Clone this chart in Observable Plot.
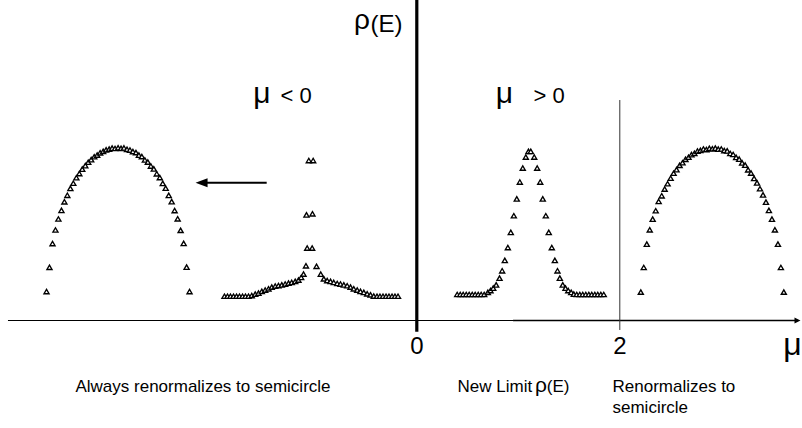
<!DOCTYPE html>
<html>
<head>
<meta charset="utf-8">
<script src="https://cdn.jsdelivr.net/npm/d3@7"></script>
<script src="https://cdn.jsdelivr.net/npm/@observablehq/plot@0.6"></script>
<style>
  html, body { margin: 0; padding: 0; background: #fff; }
  svg { display: block; }
</style>
</head>
<body>
<script>
// ---- Data (x in μ units, y in ρ units) ----
const semiLeftMu = [-3.648,-3.619,-3.589,-3.560,-3.531,-3.501,-3.472,-3.443,-3.413,-3.384,-3.354,-3.325,-3.296,-3.266,-3.237,-3.208,-3.178,-3.149,-3.120,-3.090,-3.061,-3.031,-3.002,-2.973,-2.943,-2.914,-2.885,-2.855,-2.826,-2.797,-2.767,-2.738,-2.709,-2.679,-2.650,-2.620,-2.591,-2.562,-2.532,-2.503,-2.474,-2.444,-2.415,-2.386,-2.356,-2.327,-2.297,-2.268,-2.239];
const semiLeftRho = [0.164,0.305,0.443,0.522,0.586,0.636,0.686,0.724,0.764,0.794,0.826,0.850,0.876,0.896,0.916,0.931,0.948,0.958,0.971,0.979,0.988,0.992,0.998,0.996,1.000,0.997,0.999,0.991,0.987,0.978,0.972,0.957,0.949,0.929,0.917,0.894,0.877,0.849,0.827,0.793,0.765,0.723,0.687,0.635,0.587,0.520,0.444,0.306,0.164];

const cuspMu = [-1.895,-1.865,-1.836,-1.806,-1.776,-1.747,-1.717,-1.688,-1.658,-1.626,-1.592,-1.560,-1.527,-1.494,-1.461,-1.429,-1.395,-1.363,-1.330,-1.297,-1.264,-1.232,-1.198,-1.166,-1.139,-1.116,-1.092,-1.087,-1.080,-1.064,-1.021,-1.028,-1.031,-0.988,-0.946,-0.916,-0.883,-0.850,-0.818,-0.784,-0.752,-0.719,-0.686,-0.653,-0.621,-0.587,-0.555,-0.522,-0.489,-0.456,-0.424,-0.392,-0.363,-0.333,-0.303,-0.274,-0.244,-0.215,-0.185];
const cuspRho = [0.137,0.137,0.137,0.137,0.137,0.137,0.137,0.137,0.137,0.141,0.149,0.155,0.165,0.173,0.180,0.190,0.196,0.199,0.203,0.208,0.213,0.217,0.223,0.231,0.246,0.266,0.314,0.610,0.417,0.926,0.926,0.616,0.417,0.311,0.265,0.238,0.228,0.223,0.217,0.211,0.208,0.203,0.198,0.190,0.180,0.173,0.165,0.159,0.151,0.145,0.138,0.137,0.137,0.137,0.137,0.137,0.137,0.137,0.137];

const gaussMu = [0.398,0.428,0.457,0.487,0.516,0.546,0.575,0.605,0.634,0.664,0.700,0.726,0.753,0.782,0.815,0.841,0.867,0.897,0.926,0.956,0.985,1.015,1.044,1.074,1.100,1.123,1.157,1.186,1.216,1.241,1.271,1.300,1.330,1.360,1.386,1.409,1.438,1.465,1.492,1.521,1.547,1.576,1.606,1.635,1.665,1.695,1.724,1.754,1.783,1.813,1.842];
const gaussRho = [0.147,0.147,0.147,0.147,0.147,0.147,0.147,0.147,0.147,0.147,0.159,0.170,0.184,0.203,0.242,0.285,0.345,0.420,0.508,0.605,0.703,0.801,0.882,0.946,0.979,0.979,0.946,0.882,0.801,0.703,0.605,0.508,0.420,0.345,0.285,0.242,0.203,0.184,0.170,0.159,0.149,0.147,0.147,0.147,0.147,0.147,0.147,0.147,0.147,0.147,0.147];

const semiRightMu = [2.207,2.236,2.266,2.295,2.324,2.354,2.383,2.413,2.442,2.471,2.501,2.530,2.559,2.589,2.618,2.647,2.677,2.706,2.735,2.765,2.794,2.824,2.853,2.882,2.912,2.941,2.970,3.000,3.029,3.058,3.088,3.117,3.146,3.176,3.205,3.235,3.264,3.293,3.323,3.352,3.381,3.411,3.440,3.469,3.499,3.528,3.558,3.587,3.616];
const semiRightRho = [0.161,0.304,0.440,0.523,0.585,0.634,0.688,0.721,0.760,0.791,0.823,0.852,0.873,0.898,0.913,0.933,0.945,0.960,0.968,0.981,0.985,0.993,0.990,0.997,0.994,0.998,0.992,0.993,0.984,0.982,0.967,0.961,0.944,0.934,0.912,0.899,0.872,0.853,0.822,0.796,0.762,0.726,0.684,0.636,0.585,0.523,0.440,0.304,0.161];

// axes / annotation extents (data units)
const xTicks = [0, 2];
const xTickLabels = ["0", "2"];
const muAxisThin = [-4.023, 0.953];
const muAxisThick = [0.953, 3.760];
const muAxisTip = 3.780;
const rhoAxisSpan = [-0.068, 1.8605];
const boundarySpan = [-0.058, 1.279];
const arrowMu = [-1.474, -2.180];
const arrowRho = 0.801;

const labels = [
  {text: "ρ", x: -0.540, y: 1.692, size: 28, anchor: "middle"},
  {text: "(E)", x: -0.456, y: 1.680, size: 24, anchor: "start"},
  {text: "μ", x: -1.525, y: 1.267, size: 30, anchor: "middle"},
  {text: "< 0", x: -1.343, y: 1.267, size: 22, anchor: "start"},
  {text: "μ", x: 0.864, y: 1.267, size: 30, anchor: "middle"},
  {text: "> 0", x: 1.150, y: 1.267, size: 22, anchor: "start"},
  {text: "μ", x: 3.700, y: -0.203, size: 32, anchor: "middle"},
  {text: "Always renormalizes to semicircle", x: -3.363, y: -0.413, size: 17, anchor: "start"},
  {text: "New Limit", x: 0.401, y: -0.413, size: 17, anchor: "start"},
  {text: "ρ", x: 1.223, y: -0.413, size: 21, anchor: "middle"},
  {text: "(E)", x: 1.280, y: -0.413, size: 17, anchor: "start"},
  {text: "Renormalizes to", x: 1.928, y: -0.413, size: 17, anchor: "start"},
  {text: "semicircle", x: 1.928, y: -0.535, size: 17, anchor: "start"}
];

// ---- Build table ----
const points = [];
function addSeries(name, xs, ys) { xs.forEach((m, i) => points.push({curve: name, mu: m, rho: ys[i]})); }
addSeries("semicircle (μ<0)", semiLeftMu, semiLeftRho);
addSeries("μ<0", cuspMu, cuspRho);
addSeries("μ>0", gaussMu, gaussRho);
addSeries("semicircle (μ>2)", semiRightMu, semiRightRho);

const headLeft = {draw(ctx) { ctx.moveTo(0, 0); ctx.lineTo(12, -4.5); ctx.lineTo(12, 4.5); ctx.closePath(); }};
const headRight = {draw(ctx) { ctx.moveTo(0, 0); ctx.lineTo(-6, -3); ctx.lineTo(-6, 3); ctx.closePath(); }};

const chart = Plot.plot({
  width: 802,
  height: 428,
  margin: 0,
  x: {domain: [-4.1015, 3.800], axis: null},
  y: {domain: [-0.6279, 1.8605], axis: null},
  style: {background: "white", fontFamily: "'Liberation Sans', Arial, Helvetica, sans-serif", color: "black"},
  marks: [
    Plot.ruleY([{y: 0, x1: muAxisThin[0], x2: muAxisThin[1]}], {y: "y", x1: "x1", x2: "x2", stroke: "black", strokeWidth: 1.2}),
    Plot.ruleY([{y: 0, x1: muAxisThick[0], x2: muAxisThick[1]}], {y: "y", x1: "x1", x2: "x2", stroke: "black", strokeWidth: 1.7}),
    Plot.dot([{x: muAxisTip, y: 0}], {x: "x", y: "y", symbol: headRight, fill: "black", stroke: "none"}),
    Plot.ruleX([{x: 0, y1: rhoAxisSpan[0], y2: rhoAxisSpan[1]}], {x: "x", y1: "y1", y2: "y2", stroke: "black", strokeWidth: 3.2}),
    Plot.ruleX([{x: 2, y1: boundarySpan[0], y2: boundarySpan[1]}], {x: "x", y1: "y1", y2: "y2", stroke: "#333", strokeWidth: 1}),
    Plot.ruleY([{y: arrowRho, x1: arrowMu[0], x2: arrowMu[1] + 0.05}], {y: "y", x1: "x1", x2: "x2", stroke: "black", strokeWidth: 1.8}),
    Plot.dot([{x: arrowMu[1], y: arrowRho}], {x: "x", y: "y", symbol: headLeft, fill: "black", stroke: "none"}),
    Plot.dot(points, {x: "mu", y: "rho", symbol: "triangle", r: 1.9, stroke: "black", strokeWidth: 1.35, fill: "white"}),
    Plot.text(xTicks.map((t, i) => ({x: t, label: xTickLabels[i]})), {x: "x", y: () => -0.192, text: "label", fontSize: 24, textAnchor: "middle", lineAnchor: "bottom", fill: "black"}),
    Plot.text(labels.filter(d => d.anchor === "middle"), {x: "x", y: "y", text: "text", fontSize: "size", textAnchor: "middle", lineAnchor: "bottom", fill: "black"}),
    Plot.text(labels.filter(d => d.anchor === "start"), {x: "x", y: "y", text: "text", fontSize: "size", textAnchor: "start", lineAnchor: "bottom", fill: "black"})
  ]
});
document.body.appendChild(chart);
</script>
</body>
</html>
